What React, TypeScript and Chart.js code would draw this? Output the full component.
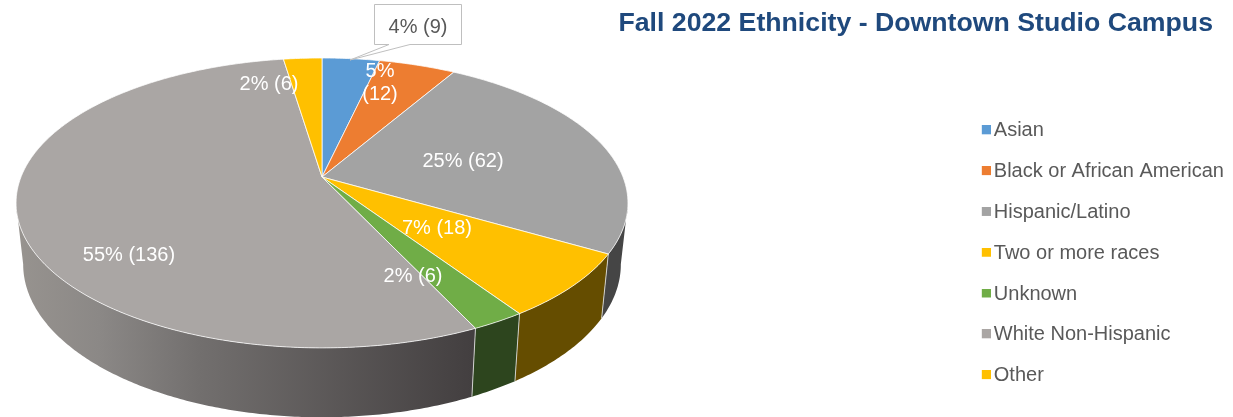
import React, { useEffect, useRef } from "react";
import { Chart, registerables } from "chart.js";

Chart.register(...registerables);

const categories = ["Asian", "Black or African American", "Hispanic/Latino", "Two or more races", "Unknown", "White Non-Hispanic", "Other"];
const counts = [9, 12, 62, 18, 6, 136, 6];
const sliceColors = ["#5b9bd5", "#ed7d31", "#a3a3a3", "#ffc000", "#70ad47", "#aaa6a4", "#ffc000"];
const wallColors = ["#2f4f6e", "#7a3f18", "#454545", "#654d00", "#2d451e", "", "#654d00"];
const titleText = "Fall 2022 Ethnicity - Downtown Studio Campus";

// Label anchors (layout only)
const labelAnchors: [number, number][] = [[418, 27], [380, 83], [463, 161], [437, 228], [413, 276], [129, 255], [269, 84]];

// Perspective of the tilted disc
const APEX_X = 322, APEX_Y = 177, TOP_RX = 301, TOP_RY = 140.3, PERSP = 0.179;
const BOT_RX = 294, BOT_RY = 148, BOT_Y = 237;
const WALL_FROM = (10.3 * Math.PI) / 180, WALL_TO = (169.7 * Math.PI) / 180;

const rimTop = (a: number): [number, number] => {
  const w = 1 - PERSP * Math.sin(a);
  return [APEX_X + (TOP_RX * Math.cos(a)) / w, APEX_Y + (TOP_RY * Math.sin(a)) / w];
};
const rimBot = (a: number): [number, number] => {
  const w = 1 - PERSP * Math.sin(a);
  return [APEX_X + (BOT_RX * Math.cos(a)) / w, BOT_Y + (BOT_RY * Math.sin(a)) / w];
};
const sweep = (a0: number, a1: number): number[] => {
  const n = Math.max(2, Math.ceil(Math.abs(a1 - a0) / 0.01));
  const out: number[] = [];
  for (let i = 0; i <= n; i++) out.push(a0 + ((a1 - a0) * i) / n);
  return out;
};

// Legend marker: 9px square in the upper right of a 14x11 tile, so it sits close to its text.
const swatch = (color: string) => {
  const c = document.createElement("canvas");
  c.width = 14;
  c.height = 11;
  const g = c.getContext("2d")!;
  g.fillStyle = color;
  g.fillRect(5, 0, 9, 9);
  return c;
};

const tiltedPie = {
  id: "tiltedPie",
  afterLayout(chart: any) {
    const legend = chart.legend;
    if (legend) {
      legend.left = 963;
      legend.right = 1233;
      legend.width = 270;
      legend.top = 100;
      legend.bottom = 417;
      legend.height = 317;
    }
  },
  beforeDatasetDraw(chart: any) {
    const ctx: CanvasRenderingContext2D = chart.ctx;
    const arcs = chart.getDatasetMeta(0).data;
    ctx.save();
    ctx.lineJoin = "round";

    // side walls
    arcs.forEach((arc: any, i: number) => {
      const a0 = Math.max(arc.startAngle, WALL_FROM);
      const a1 = Math.min(arc.endAngle, WALL_TO);
      const isMain = wallColors[i] === "";
      if (a1 <= a0) return;
      ctx.beginPath();
      sweep(a0, a1).forEach((t, j) => {
        const [x, y] = rimTop(t);
        j ? ctx.lineTo(x, y) : ctx.moveTo(x, y);
      });
      sweep(a1, a0).forEach((t) => {
        const [x, y] = rimBot(t);
        ctx.lineTo(x, y);
      });
      ctx.closePath();
      if (isMain) {
        const g = ctx.createLinearGradient(18, 0, 472, 0);
        g.addColorStop(0, "#97938f");
        g.addColorStop(0.18, "#8b8886");
        g.addColorStop(0.4, "#726f6e");
        g.addColorStop(1, "#433f40");
        ctx.fillStyle = g;
      } else {
        ctx.fillStyle = wallColors[i];
      }
      ctx.fill();
    });

    // seams between the walls
    ctx.strokeStyle = "rgba(225,225,225,0.85)";
    ctx.lineWidth = 1;
    arcs.forEach((arc: any) => {
      const a = arc.startAngle;
      if (a > WALL_FROM && a < WALL_TO) {
        const [x0, y0] = rimTop(a);
        const [x1, y1] = rimBot(a);
        ctx.beginPath();
        ctx.moveTo(x0, y0);
        ctx.lineTo(x1, y1);
        ctx.stroke();
      }
    });

    // top face
    arcs.forEach((arc: any) => {
      ctx.beginPath();
      ctx.moveTo(APEX_X, APEX_Y);
      sweep(arc.startAngle, arc.endAngle).forEach((t) => {
        const [x, y] = rimTop(t);
        ctx.lineTo(x, y);
      });
      ctx.closePath();
      ctx.fillStyle = arc.options.backgroundColor;
      ctx.fill();
      ctx.strokeStyle = "rgba(255,255,255,0.75)";
      ctx.lineWidth = 1;
      ctx.stroke();
    });
    ctx.restore();
    return false;
  },
  afterDatasetsDraw(chart: any) {
    const ctx: CanvasRenderingContext2D = chart.ctx;
    const total = counts.reduce((a, b) => a + b, 0);
    ctx.save();

    // callout for the first label
    ctx.beginPath();
    ctx.moveTo(374.5, 4.5);
    ctx.lineTo(461.5, 4.5);
    ctx.lineTo(461.5, 44.5);
    ctx.lineTo(410, 44.5);
    ctx.lineTo(350, 60);
    ctx.lineTo(389, 44.5);
    ctx.lineTo(374.5, 44.5);
    ctx.closePath();
    ctx.fillStyle = "#ffffff";
    ctx.fill();
    ctx.strokeStyle = "#bfbfbf";
    ctx.lineWidth = 1;
    ctx.stroke();

    ctx.font = '20px "Liberation Sans"';
    ctx.textAlign = "center";
    ctx.textBaseline = "middle";
    counts.forEach((n, i) => {
      const text = `${Math.round((n / total) * 100)}% (${n})`;
      const [x, y] = labelAnchors[i];
      ctx.fillStyle = i === 0 ? "#595959" : "#ffffff";
      if (i === 1) {
        const [a, b] = text.split(" ");
        ctx.fillText(a, x, y - 12);
        ctx.fillText(b, x, y + 11);
      } else {
        ctx.fillText(text, x, y);
      }
    });
    ctx.restore();
  },
};

export default function App() {
  const ref = useRef<HTMLCanvasElement>(null);
  useEffect(() => {
    document.body.style.margin = "0";
    Chart.defaults.font.family = '"Liberation Sans", Arial, sans-serif';
    const chart = new Chart(ref.current!, {
      type: "pie",
      data: {
        labels: categories,
        datasets: [{ data: counts, backgroundColor: sliceColors, borderWidth: 0 }],
      },
      plugins: [tiltedPie],
      options: {
        responsive: false,
        animation: false,
        events: [],
        layout: { padding: { right: 20 } },
        plugins: {
          tooltip: { enabled: false },
          title: {
            display: true,
            text: titleText,
            align: "end",
            color: "#1f497d",
            font: { size: 26.7, weight: "bold" },
            padding: { top: 8, bottom: 0 },
          },
          legend: {
            position: "right",
            align: "start",
            labels: {
              usePointStyle: true,
              boxWidth: 0.01,
              boxHeight: 9,
              padding: 20.8,
              color: "#595959",
              font: { size: 20 },
              generateLabels(chart: any) {
                const items = (Chart as any).overrides.pie.plugins.legend.labels.generateLabels(chart);
                return items.map((it: any, i: number) => ({
                  ...it,
                  pointStyle: swatch(sliceColors[i]),
                }));
              },
            },
          },
        },
      },
    } as any);
    return () => chart.destroy();
  }, []);
  return <canvas ref={ref} width={1233} height={417} style={{ display: "block" }} />;
}
